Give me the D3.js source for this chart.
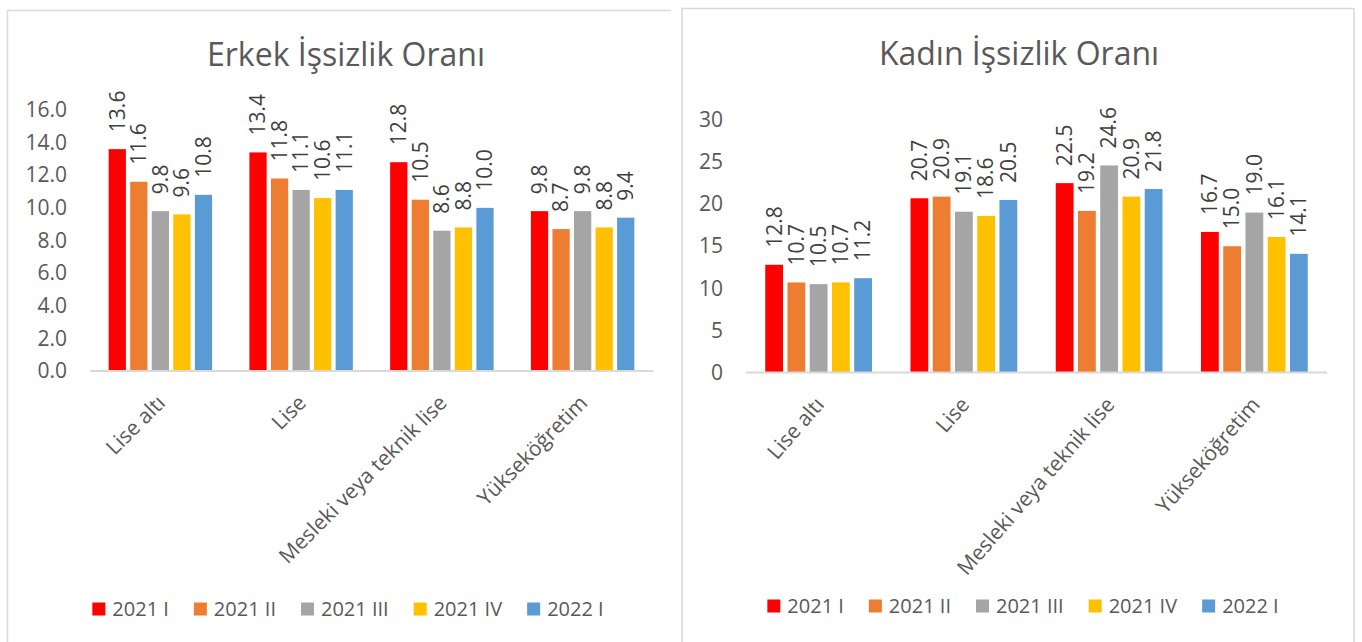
<!DOCTYPE html>
<html>
<head>
<meta charset="utf-8">
<script src="https://cdn.jsdelivr.net/npm/d3@7"></script>
<style>
  body { margin: 0; background: #fff; }
  svg { display: block; font-family: "Open Sans", sans-serif; }
</style>
</head>
<body>
<div id="chart"></div>
<script>
const categories = ["Lise altı", "Lise", "Mesleki veya teknik lise", "Yükseköğretim"];
const periods = ["2021 I", "2021 II", "2021 III", "2021 IV", "2022 I"];
const colors = ["#ff0000", "#ed7d31", "#a5a5a5", "#ffc000", "#5b9bd5"];

// one row per category, one value per period
const erkekValues = [
    [13.6, 11.6, 9.8, 9.6, 10.8],
    [13.4, 11.8, 11.1, 10.6, 11.1],
    [12.8, 10.5, 8.6, 8.8, 10.0],
    [9.8, 8.7, 9.8, 8.8, 9.4]
];
const kadinValues = [
    [12.8, 10.7, 10.5, 10.7, 11.2],
    [20.7, 20.9, 19.1, 18.6, 20.5],
    [22.5, 19.2, 24.6, 20.9, 21.8],
    [16.7, 15.0, 19.0, 16.1, 14.1]
];
const erkekTicks = [0, 2, 4, 6, 8, 10, 12, 14, 16];
const kadinTicks = [0, 5, 10, 15, 20, 25, 30];

const svg = d3.select("#chart")
    .append("svg")
    .attr("width", 1362)
    .attr("height", 642);

// chart frames
svg.append("path")
    .attr("d", "M7.5,660 V10.5 H671")
    .attr("fill", "none")
    .attr("stroke", "#d9d9d9")
    .attr("stroke-width", 1.5);
svg.append("rect")
    .attr("x", 682)
    .attr("y", 8.5)
    .attr("width", 672)
    .attr("height", 700)
    .attr("fill", "none")
    .attr("stroke", "#d9d9d9")
    .attr("stroke-width", 1.5);

function drawChart(opt) {
    const g = svg.append("g");

    const x0 = d3.scaleBand()
        .domain(categories)
        .range([opt.left, opt.right]);
    const groupW = x0.bandwidth() * 0.735;
    const x1 = d3.scaleBand()
        .domain(periods)
        .range([0, groupW])
        .paddingInner(0.2);
    const y = d3.scaleLinear()
        .domain([0, opt.max])
        .range([opt.bottom, opt.top]);

    // title
    g.append("text")
        .attr("x", opt.titleX)
        .attr("y", opt.titleY)
        .attr("text-anchor", "middle")
        .style("font-size", "32px")
        .style("fill", "#595959")
        .text(opt.title);

    // y axis labels
    const yAxis = g.append("g")
        .attr("transform", `translate(${opt.left},0)`)
        .call(d3.axisLeft(y).tickValues(opt.ticks).tickFormat(d3.format(opt.fmt)).tickSize(0).tickPadding(opt.left - opt.labelRight));
    yAxis.select(".domain").remove();
    yAxis.selectAll("text")
        .style("font-size", "21px")
        .style("font-family", "Open Sans, sans-serif")
        .style("fill", "#595959");

    // bars
    const groups = g.selectAll(".grp")
        .data(opt.values)
        .enter()
        .append("g")
        .attr("class", "grp")
        .attr("transform", (d, i) => `translate(${x0(categories[i]) + (x0.bandwidth() - groupW) / 2},0)`);

    groups.selectAll("rect")
        .data(d => d.map((v, j) => ({ v: v, p: periods[j], c: colors[j] })))
        .enter()
        .append("rect")
        .attr("x", d => x1(d.p))
        .attr("y", d => y(d.v))
        .attr("width", x1.bandwidth())
        .attr("height", d => y(0) - y(d.v))
        .attr("fill", d => d.c);

    groups.selectAll("text")
        .data(d => d.map((v, j) => ({ v: v, p: periods[j] })))
        .enter()
        .append("text")
        .attr("transform", d => `translate(${x1(d.p) + x1.bandwidth() / 2},${y(d.v) - 17}) rotate(-90)`)
        .attr("dy", "0.35em")
        .style("font-size", "21px")
        .style("fill", "#404040")
        .text(d => d3.format(".1f")(d.v));

    // x axis line
    g.append("line")
        .attr("x1", opt.left)
        .attr("x2", opt.right)
        .attr("y1", y(0))
        .attr("y2", y(0))
        .attr("stroke", "#d9d9d9")
        .attr("stroke-width", 2);

    // category labels
    g.selectAll(".cat")
        .data(categories)
        .enter()
        .append("text")
        .attr("class", "cat")
        .attr("transform", d => `translate(${x0(d) + x0.bandwidth() / 2 + 1},${y(0) + 28}) rotate(${opt.angle})`)
        .attr("text-anchor", "end")
        .attr("dy", "0.35em")
        .style("font-size", "21px")
        .style("fill", "#595959")
        .text(d => d);

    // legend
    const legend = g.append("g");
    const items = legend.selectAll("g")
        .data(periods)
        .enter()
        .append("g");
    items.append("rect")
        .attr("width", 13)
        .attr("height", 13)
        .attr("y", -6.5)
        .attr("fill", (d, i) => colors[i]);
    items.append("text")
        .attr("x", 20)
        .attr("dy", "0.35em")
        .style("font-size", "20px")
        .style("fill", "#595959")
        .text(d => d);
    let pos = 0;
    items.each(function () {
        const w = 20 + d3.select(this).select("text").node().getComputedTextLength();
        d3.select(this).attr("transform", `translate(${pos},0)`);
        pos += w + 25;
    });
    const total = pos - 25;
    legend.attr("transform", `translate(${opt.legendX - total / 2},${opt.legendY})`);
}

drawChart({
    title: "Erkek İşsizlik Oranı",
    titleX: 346, titleY: 66,
    values: erkekValues,
    ticks: erkekTicks, max: 16, fmt: ".1f",
    left: 90, right: 653, top: 110, bottom: 371,
    labelRight: 67, angle: -45,
    legendX: 348, legendY: 609
});

drawChart({
    title: "Kadın İşsizlik Oranı",
    titleX: 1019, titleY: 65,
    values: kadinValues,
    ticks: kadinTicks, max: 30, fmt: "d",
    left: 746, right: 1327, top: 120, bottom: 372.5,
    labelRight: 723, angle: -49,
    legendX: 1023, legendY: 606
});
</script>
</body>
</html>
